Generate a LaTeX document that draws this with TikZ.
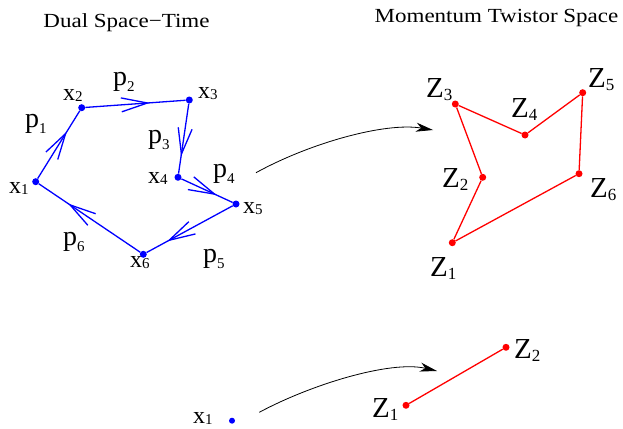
\documentclass[tikz,border=0pt]{standalone}
\usepackage{fontspec}
\setmainfont{Liberation Serif}
\newfontfamily\titlefont[FakeStretch=1.15]{Liberation Serif}
\usetikzlibrary{calc,arrows.meta}
\newcommand\xlab[1]{{\fontsize{24}{24}\selectfont x}\raisebox{-1.5pt}{\fontsize{15}{15}\selectfont #1}}
\newcommand\plab[1]{{\fontsize{28}{28}\selectfont p}\raisebox{-6pt}{\fontsize{15}{15}\selectfont #1}}
\newcommand\zlab[1]{{\fontsize{29}{29}\selectfont Z}\raisebox{-3pt}{\fontsize{17}{17}\selectfont #1}}
\tikzset{
  bdot/.style={circle,fill=blue,inner sep=0pt,minimum size=7pt},
  rdot/.style={circle,fill=red,inner sep=0pt,minimum size=7pt},
  bline/.style={blue,line width=1.3pt},
  rline/.style={red,line width=1.3pt},
  lab/.style={anchor=base west,inner sep=0pt},
  ttl/.style={anchor=base,inner sep=0pt,font=\titlefont\fontsize{20}{20}\selectfont},
  maparrow/.style={black,line width=0.8pt,-{Stealth[length=17pt,width=9pt,inset=5pt]}}
}
\newcommand\chev[3]{%
  \coordinate (t) at ($(#1)!#3!(#2)$);
  \draw[bline] ($(t)!27pt!15:(#1)$) -- (t) -- ($(t)!27pt!-15:(#1)$);
}
\begin{document}
\begin{tikzpicture}[x=1pt,y=-1pt]
\useasboundingbox (0,0) rectangle (623,428);
% titles
\node[ttl] (t1) at (126.5,28) {Dual Space{\char"2212}Time};
\node[ttl] (t2) at (496.5,23) {Momentum Twistor Space};
% dual space-time points
\node[bdot] (x1) at (35.7,181.7) {};
\node[bdot] (x2) at (81.7,107.7) {};
\node[bdot] (x3) at (189.3,100) {};
\node[bdot] (x4) at (178,177.3) {};
\node[bdot] (x5) at (236,204) {};
\node[bdot] (x6) at (143.3,254.3) {};
\draw[bline] (x1) -- (x2) -- (x3) -- (x4) -- (x5) -- (x6) -- (x1);
\chev{x1}{x2}{0.65}
\chev{x2}{x3}{0.61}
\chev{x3}{x4}{0.70}
\chev{x4}{x5}{0.63}
\chev{x5}{x6}{0.72}
\chev{x6}{x1}{0.68}
% labels
\node[lab] (lx1) at (9,193) {\xlab{1}};
\node[lab] (lx2) at (63,100) {\xlab{2}};
\node[lab] (lx3) at (198,98) {\xlab{3}};
\node[lab] (lx4) at (148,183) {\xlab{4}};
\node[lab] (lx5) at (243,213) {\xlab{5}};
\node[lab] (lx6) at (130,267) {\xlab{6}};
\node[lab] (lp1) at (25,127) {\plab{1}};
\node[lab] (lp2) at (113,85) {\plab{2}};
\node[lab] (lp3) at (148,143) {\plab{3}};
\node[lab] (lp4) at (213,177) {\plab{4}};
\node[lab] (lp5) at (203,262) {\plab{5}};
\node[lab] (lp6) at (63,245) {\plab{6}};
% momentum twistor points
\node[rdot] (z1) at (452.3,242.7) {};
\node[rdot] (z2) at (482.7,177.3) {};
\node[rdot] (z3) at (455.3,104) {};
\node[rdot] (z4) at (525,135) {};
\node[rdot] (z5) at (582.7,92.7) {};
\node[rdot] (z6) at (579,173.7) {};
\draw[rline] (z1) -- (z2) -- (z3) -- (z4) -- (z5) -- (z6) -- (z1);
\node[lab] (lz1) at (430,276) {\zlab{1}};
\node[lab] (lz2) at (442,187) {\zlab{2}};
\node[lab] (lz3) at (426,97) {\zlab{3}};
\node[lab] (lz4) at (511,117) {\zlab{4}};
\node[lab] (lz5) at (588,87) {\zlab{5}};
\node[lab] (lz6) at (590,197) {\zlab{6}};
% top map arrow
\coordinate (a1s) at (256,172.7);
\coordinate (a1e) at (433,130);
\draw[maparrow] (a1s) .. controls (310,143) and (385,122) .. (a1e);
% bottom
\node[bdot,minimum size=6pt] (y1) at (232,420.7) {};
\node[lab] (ly1) at (193,423) {\xlab{1}};
\node[rdot] (w1) at (406,405.3) {};
\node[rdot] (w2) at (506,347.3) {};
\draw[rline] (w1) -- (w2);
\node[lab] (lw1) at (372,417) {\zlab{1}};
\node[lab] (lw2) at (514,358) {\zlab{2}};
\coordinate (a2s) at (259.3,412.3);
\coordinate (a2e) at (437,371);
\draw[maparrow] (a2s) .. controls (310,385) and (390,360) .. (a2e);
\end{tikzpicture}
\end{document}
